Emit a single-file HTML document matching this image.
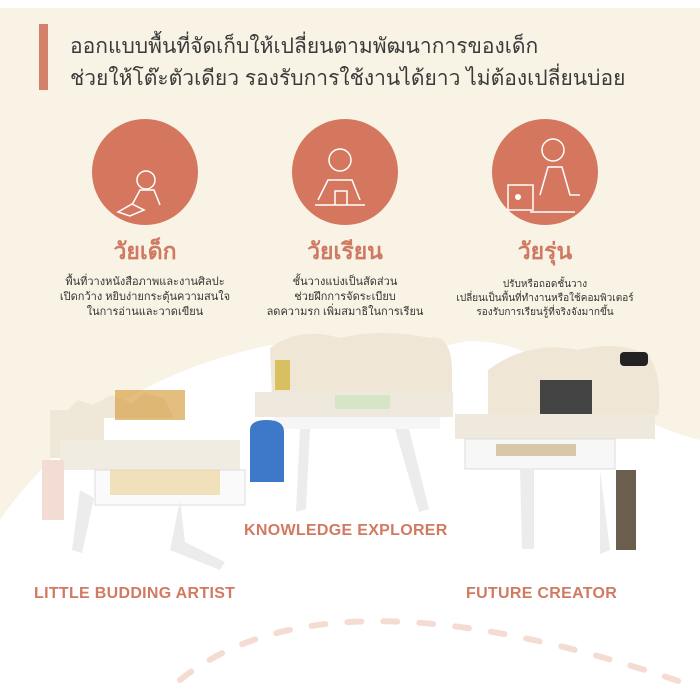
<!DOCTYPE html>
<html><head><meta charset="utf-8"><style>
body{margin:0;width:700px;height:700px;overflow:hidden;background:#fff;font-family:"Liberation Sans","Noto Sans CJK SC",sans-serif;}
.a{position:absolute;}
.t{color:#cf7a62;font-weight:bold;text-align:center;}
.d{color:#333;font-size:11px;line-height:15px;text-align:center;}
.h{color:#3a3a3a;font-size:21px;left:70px;white-space:nowrap;}
.lab{color:#d07a62;font-weight:bold;font-size:16px;white-space:nowrap;letter-spacing:0.3px;}
</style></head><body>
<svg class="a" style="left:0;top:0" width="700" height="700">
<path d="M0 0H700V440C640 425 600 395 560 370C520 345 480 335 450 345L270 345C200 360 120 390 60 450C30 480 10 505 0 520Z" fill="#f8f3e5"/>
<path d="M0 0H700V8H0Z" fill="#fff"/>
<rect x="39" y="24" width="9" height="66" fill="#d2806a"/>
<circle cx="145" cy="172" r="53" fill="#d5775f"/>
<circle cx="345" cy="172" r="53" fill="#d5775f"/>
<circle cx="545" cy="172" r="53" fill="#d5775f"/>
<g stroke="#fff" stroke-width="1.5" fill="none">
<circle cx="146" cy="180" r="9"/><path d="M132 205l8-15h14l6 15M118 212l14-8 12 6-14 6z"/>
<circle cx="340" cy="160" r="11"/><path d="M318 200l10-20h24l8 20M315 205h50M335 205v-14h12v14"/>
<circle cx="553" cy="150" r="11"/><path d="M540 195l8-28h14l8 28h10M508 185h25v25h-25zM530 212h45"/>
</g>
<circle cx="518" cy="197" r="3" fill="#fff"/>
<g stroke="#f5dcd2" stroke-width="6" stroke-linecap="round" fill="none" stroke-dasharray="14 22">
<path d="M180 680Q330 560 690 685"/>
</g>
<g>
<path d="M50 410h18l10-10 14 5 20-10 20 8 12-10 20 5 10 20h-70v40h-54z" fill="#efe7d8"/>
<rect x="60" y="440" width="180" height="30" fill="#f1ece2"/>
<rect x="95" y="470" width="150" height="35" fill="#fafafa" stroke="#ddd"/>
<rect x="110" y="470" width="110" height="25" fill="#e8c87a" opacity=".5"/>
<rect x="115" y="390" width="70" height="30" fill="#d9a24b" opacity=".7"/>
<path d="M80 490l-8 60 10 3 12-55zM180 500l-10 50 50 20 5-8-40-20z" fill="#ececec"/>
<rect x="42" y="460" width="22" height="60" fill="#f3dcd4"/>
<path d="M270 348q30-22 70-10 40-10 90 0 20-5 22 30v30h-180z" fill="#efe6d6"/>
<rect x="255" y="392" width="198" height="25" fill="#efe8dc"/>
<rect x="275" y="417" width="165" height="12" fill="#f6f6f6"/>
<rect x="335" y="395" width="55" height="14" fill="#d4e6c5"/>
<path d="M300 429h10l-4 80-10 3zM395 429h14l20 80-10 3z" fill="#ececec"/>
<path d="M250 430q0-10 17-10t17 12v50h-34z" fill="#3d78c9"/>
<rect x="275" y="360" width="15" height="30" fill="#d8c060"/>
<path d="M488 370q40-30 90-20 40-10 70 5 15 20 10 60h-170z" fill="#efe6d6"/>
<rect x="540" y="380" width="52" height="38" fill="#444"/>
<rect x="455" y="414" width="200" height="25" fill="#efe8dc"/>
<rect x="465" y="439" width="150" height="30" fill="#f7f7f7" stroke="#ddd"/>
<rect x="496" y="444" width="80" height="12" fill="#d8c8a8"/>
<path d="M520 469h14v80h-12zM600 470l10 80-10 4z" fill="#ececec"/>
<rect x="616" y="470" width="20" height="80" fill="#6b5e4e"/>
<rect x="620" y="352" width="28" height="14" rx="4" fill="#222"/>
</g>
</svg>
<div class="a h" style="top:30px;">ออกแบบพื้นที่จัดเก็บให้เปลี่ยนตามพัฒนาการของเด็ก</div>
<div class="a h" style="top:62px;">ช่วยให้โต๊ะตัวเดียว รองรับการใช้งานได้ยาว ไม่ต้องเปลี่ยนบ่อย</div>
<div class="a t" style="left:45px;width:200px;top:234px;font-size:23px;">วัยเด็ก</div>
<div class="a t" style="left:245px;width:200px;top:234px;font-size:23px;">วัยเรียน</div>
<div class="a t" style="left:445px;width:200px;top:234px;font-size:23px;">วัยรุ่น</div>
<div class="a d" style="left:35px;width:220px;top:275px;">พื้นที่วางหนังสือภาพและงานศิลปะ<br>เปิดกว้าง หยิบง่ายกระตุ้นความสนใจ<br>ในการอ่านและวาดเขียน</div>
<div class="a d" style="left:235px;width:220px;top:275px;">ชั้นวางแบ่งเป็นสัดส่วน<br>ช่วยฝึกการจัดระเบียบ<br>ลดความรก เพิ่มสมาธิในการเรียน</div>
<div class="a d" style="left:435px;width:220px;top:278px;font-size:10px;line-height:14px;">ปรับหรือถอดชั้นวาง<br>เปลี่ยนเป็นพื้นที่ทำงานหรือใช้คอมพิวเตอร์<br>รองรับการเรียนรู้ที่จริงจังมากขึ้น</div>
<div class="a lab" style="left:244px;top:522px;">KNOWLEDGE EXPLORER</div>
<div class="a lab" style="left:34px;top:585px;">LITTLE BUDDING ARTIST</div>
<div class="a lab" style="left:466px;top:585px;">FUTURE CREATOR</div>
</body></html>
